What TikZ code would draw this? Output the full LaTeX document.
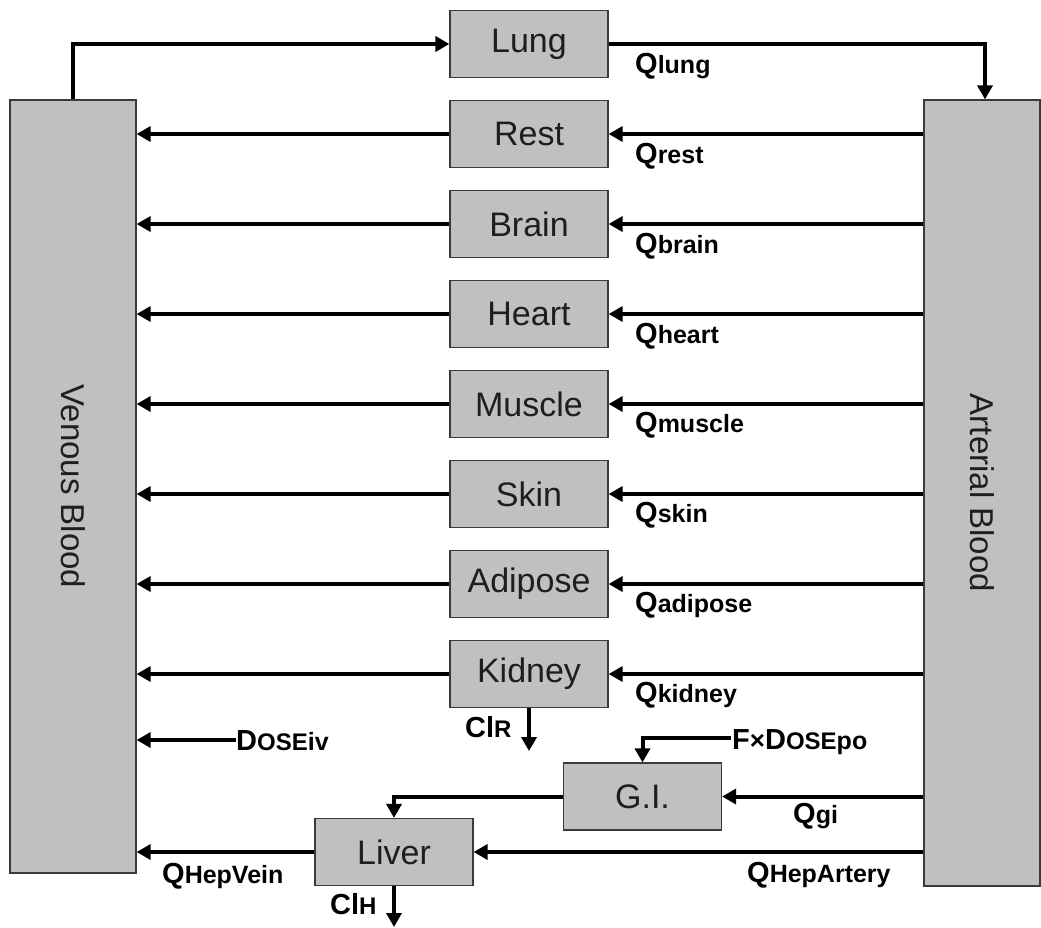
\documentclass[tikz,border=0pt]{standalone}
\usepackage{fontspec}
\setmainfont{Liberation Sans}
\usetikzlibrary{arrows.meta}
\newcommand\bigf{\fontsize{29}{30}\selectfont\bfseries}
\newcommand\smf{\fontsize{25}{26}\selectfont\bfseries}
\newcommand\scf{\fontsize{24}{25}\selectfont\bfseries}
\newcommand\qlab[1]{{\bigf Q}{\smf #1}}
\definecolor{boxgray}{HTML}{C0C0C0}
\definecolor{edgegray}{HTML}{3A3A3A}
\definecolor{txtgray}{HTML}{1E1E1E}
\tikzset{
  organ/.style={draw=edgegray, line width=1.2pt, fill=boxgray, minimum width=158pt, minimum height=67pt, inner sep=0pt, text=txtgray, font=\fontsize{34}{36}\selectfont},
  blood/.style={draw=edgegray, line width=1.2pt, fill=boxgray, inner sep=0pt},
  bloodtxt/.style={rotate=-90, text=txtgray, font=\fontsize{33}{35}\selectfont, inner sep=0pt},
  flow/.style={line width=4pt, -{Triangle[length=14pt,width=15pt]}},
  lab/.style={anchor=base west, inner sep=0pt}
}
\begin{document}
\begin{tikzpicture}[x=1pt,y=-1pt]
\useasboundingbox (0,0) rectangle (1041,927);
% blood compartments
\node[blood, minimum width=126pt, minimum height=773pt] (ven) at (73,486.5) {};
\node[bloodtxt] (ventxt) at (ven.center) {Venous Blood};
\node[blood, minimum width=116pt, minimum height=786pt] (art) at (982,493) {};
\node[bloodtxt] (arttxt) at (art.center) {Arterial Blood};
% organs
\node[organ] (lung) at (529,44) {Lung};
\node[organ] (rest) at (529,134) {Rest};
\node[organ] (brain) at (529,224) {Brain};
\node[organ] (heart) at (529,314) {Heart};
\node[organ] (muscle) at (529,404) {Muscle};
\node[organ] (skin) at (529,494) {Skin};
\node[organ] (adipose) at (529,584) {Adipose};
\node[organ] (kidney) at (529,674) {Kidney};
\node[organ] (gi) at (642.5,796.5) {G.I.};
\node[organ] (liver) at (394,852) {Liver};
% lung loop
\draw[flow] (ven.north) |- (lung.west);
\draw[flow] (lung.east) -| ([xshift=3pt]art.north);
% organ rows
\foreach \o in {rest,brain,heart,muscle,skin,adipose,kidney}{
  \draw[flow] (art.west |- \o) -- (\o.east);
  \draw[flow] (\o.west) -- (ven.east |- \o);
}
% labels
\node[lab] (qlung) at (635,73) {\qlab{lung}};
\node[lab] (qrest) at (635,163) {\qlab{rest}};
\node[lab] (qbrain) at (635,253) {\qlab{brain}};
\node[lab] (qheart) at (635,343) {\qlab{heart}};
\node[lab] (qmuscle) at (635,432) {\qlab{muscle}};
\node[lab] (qskin) at (635,522) {\qlab{skin}};
\node[lab] (qadipose) at (635,612) {\qlab{adipose}};
\node[lab] (qkidney) at (635,702) {\qlab{kidney}};
% renal clearance
\coordinate (clrend) at (529,751);
\draw[flow] (kidney.south) -- (clrend);
\node[lab] (clr) at (465,737) {{\bigf Cl}{\scf R}};
% IV dose
\coordinate (ivstart) at (236,740);
\draw[flow] (ivstart) -- (ven.east |- ivstart);
\node[lab] (doseiv) at (236,750) {{\bigf D}{\scf OSE}{\smf iv}};
% oral dose
\coordinate (postart) at (731,738);
\draw[flow] (postart) -| (gi.north);
\node[lab] (dosepo) at (732,749) {{\bigf F{\fontsize{26}{26}\selectfont\bfseries×}D}{\scf OSE}{\smf po}};
% GI
\draw[flow] (art.west |- gi) -- (gi.east);
\node[lab] (qgi) at (793,823) {\qlab{gi}};
\draw[flow] (gi.west) -| (liver.north);
% liver
\draw[flow] (art.west |- liver) -- (liver.east);
\node[lab] (qhepart) at (747,882) {\qlab{HepArtery}};
\draw[flow] (liver.west) -- (ven.east |- liver);
\node[lab] (qhepvein) at (162,883) {\qlab{HepVein}};
\coordinate (clhend) at (394,927);
\draw[flow] (liver.south) -- (clhend);
\node[lab] (clh) at (330,914) {{\bigf Cl}{\scf H}};
\end{tikzpicture}
\end{document}
